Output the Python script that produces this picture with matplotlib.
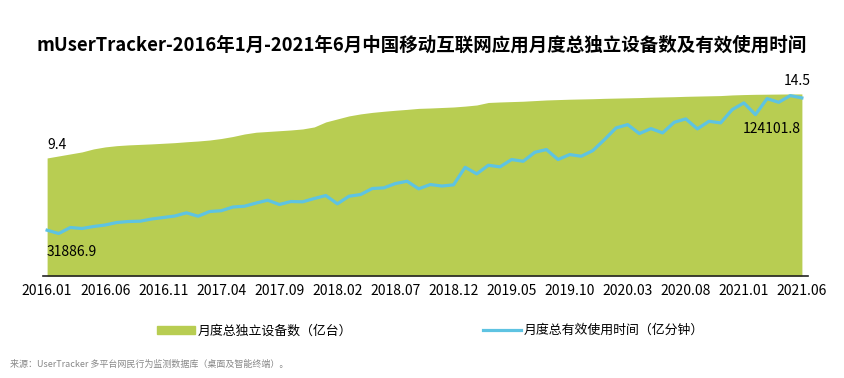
import matplotlib
matplotlib.use("Agg")
import matplotlib.pyplot as plt
from matplotlib.patches import Patch
from matplotlib.lines import Line2D

plt.rcParams['font.family'] = ['Noto Sans CJK SC', 'DejaVu Sans']

# ---- data ----
months = [f"{2016 + i // 12}.{i % 12 + 1:02d}" for i in range(66)]

devices = [9.40, 9.56, 9.72, 9.88, 10.12, 10.28, 10.38, 10.44, 10.48, 10.52,
           10.57, 10.62, 10.69, 10.75, 10.83, 10.95, 11.11, 11.31, 11.45, 11.51,
           11.57, 11.63, 11.71, 11.87, 12.27, 12.51, 12.75, 12.91, 13.03, 13.12,
           13.20, 13.27, 13.35, 13.38, 13.42, 13.46, 13.53, 13.62, 13.82, 13.86,
           13.89, 13.92, 13.97, 14.02, 14.05, 14.08, 14.10, 14.12, 14.15, 14.17,
           14.19, 14.21, 14.24, 14.26, 14.28, 14.31, 14.33, 14.35, 14.37, 14.42,
           14.45, 14.47, 14.48, 14.49, 14.50, 14.50]

usage_time = [31886.9, 29588, 33768, 33071, 34464, 35509, 37250, 37947, 38155, 39688,
              40732, 41777, 44006, 41638, 44911, 45469, 48046, 48603, 50832, 52782,
              49787, 51877, 51668, 53966, 56056, 50275, 55568, 56752, 60931, 61419,
              64414, 66016, 60722, 63717, 62673, 63508, 75767, 71170, 77160, 76045,
              81130, 79946, 86214, 88095, 81130, 84613, 83429, 87399, 95060, 103209,
              105507, 99239, 102721, 99726, 107109, 109477, 102512, 107805, 106691, 115954,
              120621, 112472, 123616, 121039, 125705, 124101.8]

tick_idx = list(range(0, 66, 5))
tick_labels = [months[i] for i in tick_idx]

green = "#b8cd52"
blue = "#5ec3e2"

fig = plt.figure(figsize=(8.44, 3.78), dpi=100)
ax = fig.add_axes([0.051, 0.270, 0.906, 0.518])
x = list(range(len(months)))

ax.fill_between(x, 0, devices, color=green, linewidth=0)
ax.set_ylim(0, 15.6)
ax.set_xlim(-0.35, 65.5)

ax2 = ax.twinx()
ax2.plot(x, usage_time, color=blue, linewidth=2.3)
ax2.set_ylim(0, 136500)

for a in (ax, ax2):
    for s in ("top", "right", "left"):
        a.spines[s].set_visible(False)
    a.set_yticks([])
ax2.spines["bottom"].set_visible(False)
ax.spines["bottom"].set_color("#222222")
ax.spines["bottom"].set_linewidth(1.2)

ax.set_xticks(tick_idx)
ax.set_xticklabels(tick_labels, fontsize=10)
ax.tick_params(axis="x", length=0, pad=6)

# data labels
ax.annotate("9.4", (0, devices[0]), xytext=(0, 4), textcoords="offset points",
            fontsize=10, ha="left", va="bottom")
ax.annotate("14.5", (65, devices[-1]), xytext=(-3, 4), textcoords="offset points",
            fontsize=10, ha="center", va="bottom")
ax2.annotate("31886.9", (0, usage_time[0]), xytext=(0, -11), textcoords="offset points",
             fontsize=10, ha="left", va="top")
ax2.annotate("124101.8", (65, usage_time[-1]), xytext=(-1, -17), textcoords="offset points",
             fontsize=10, ha="right", va="top")

fig.text(0.5, 0.88, "mUserTracker-2016年1月-2021年6月中国移动互联网应用月度总独立设备数及有效使用时间",
         ha="center", va="center", fontsize=13.3, fontweight="bold")

handles = [Patch(color=green), Line2D([], [], color=blue, linewidth=2.3)]
labels = ["月度总独立设备数（亿台）", "月度总有效使用时间（亿分钟）"]
fig.legend(handles, labels, loc="center", bbox_to_anchor=(0.51, 0.125), ncol=2,
           frameon=False, fontsize=9.3, handlelength=2.9, handleheight=0.6,
           handletextpad=0.2, columnspacing=10.2)

fig.text(0.012, 0.035, "来源：UserTracker 多平台网民行为监测数据库（桌面及智能终端）。",
         fontsize=6.5, color="#888888", ha="left", va="center")

fig.savefig("out.png", dpi=100)
